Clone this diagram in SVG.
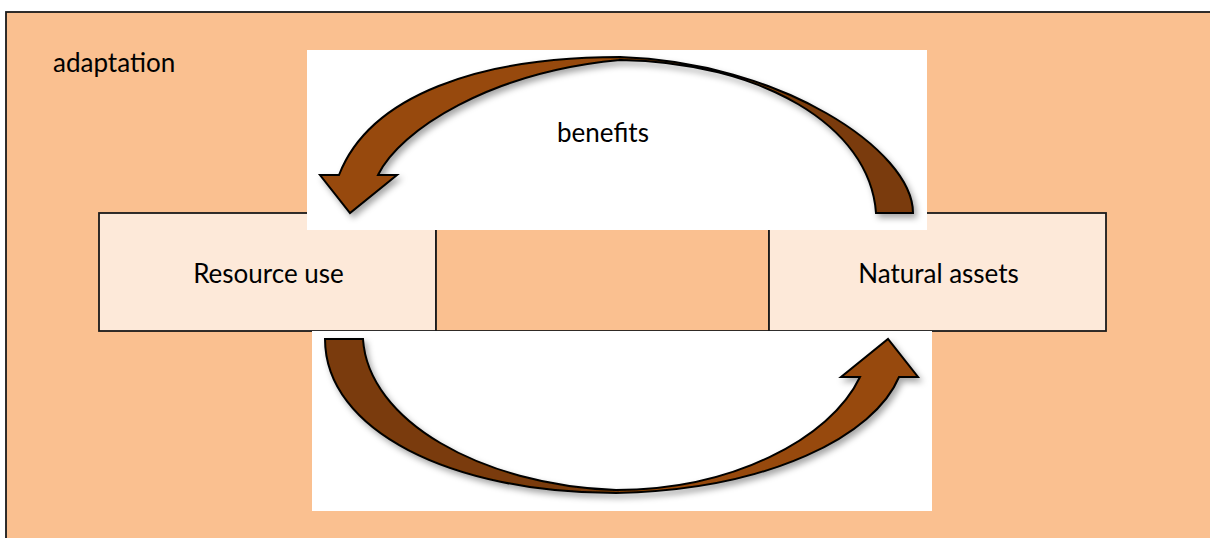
<svg xmlns="http://www.w3.org/2000/svg" width="1210" height="538" viewBox="0 0 1210 538">
  <style>
    .lbl { font-family: Lato, "Open Sans", "Liberation Sans", sans-serif; font-size: 26px; fill: #000; }
    .node { fill: #FDE9D9; stroke: #1a1a1a; stroke-width: 1.8; }
    .arrow { stroke: #000; stroke-width: 2; stroke-linejoin: miter; }
    .patch { fill: #ffffff; }
  </style>
  <defs>
    <linearGradient id="gTop" gradientUnits="userSpaceOnUse" x1="300" y1="0" x2="940" y2="0">
      <stop offset="0" stop-color="#974808"/>
      <stop offset="0.4985" stop-color="#974808"/>
      <stop offset="0.4985" stop-color="#7A3B07"/>
      <stop offset="1" stop-color="#7A3B07"/>
    </linearGradient>
    <linearGradient id="gBot" gradientUnits="userSpaceOnUse" x1="300" y1="0" x2="940" y2="0">
      <stop offset="0" stop-color="#7A3B07"/>
      <stop offset="0.4985" stop-color="#7A3B07"/>
      <stop offset="0.4985" stop-color="#974808"/>
      <stop offset="1" stop-color="#974808"/>
    </linearGradient>
    <filter id="shadow" x="-10%" y="-10%" width="125%" height="130%">
      <feDropShadow dx="3" dy="4" stdDeviation="3" flood-color="#000" flood-opacity="0.35"/>
    </filter>
  </defs>

  <g id="adaptation">
    <rect x="6" y="12" width="1230" height="560" fill="#FAC090" stroke="#1a1a1a" stroke-width="1.8"/>
    <text class="lbl" x="53" y="72">adaptation</text>
  </g>

  <g id="resource-use">
    <rect class="node" x="99" y="213" width="337" height="118"/>
    <text class="lbl" x="268.5" y="283" text-anchor="middle">Resource use</text>
  </g>

  <g id="middle">
    <rect x="436" y="213" width="333" height="118" fill="#FAC090" stroke="#1a1a1a" stroke-width="1.8"/>
  </g>

  <g id="natural-assets">
    <rect class="node" x="769" y="213" width="337" height="118"/>
    <text class="lbl" x="938.5" y="283" text-anchor="middle">Natural assets</text>
  </g>

  <g id="connectors">
    <rect class="patch" x="307" y="50" width="620" height="180"/>
    <rect class="patch" x="312" y="331" width="620" height="180"/>
    <path class="arrow" fill="url(#gTop)" filter="url(#shadow)"
      d="M 876 213 L 913 213 C 913 150, 780 62, 620 57 C 480 57, 370 95, 339 175 L 320 175 L 350 213 L 397 175 L 378 175 C 400 130, 490 72, 620 60 C 760 62, 870 125, 876 213 Z"/>
    <path class="arrow" fill="url(#gBot)" filter="url(#shadow)"
      d="M 325 339 L 363 339 C 368 420, 480 485, 616 490 C 730 490, 830 440, 860 377 L 841 377 L 888 339 L 918 377 L 899 377 C 875 435, 770 490, 616 493 C 450 493, 325 430, 325 339 Z"/>
    <text class="lbl" x="603" y="142" text-anchor="middle">benefits</text>
  </g>
</svg>
